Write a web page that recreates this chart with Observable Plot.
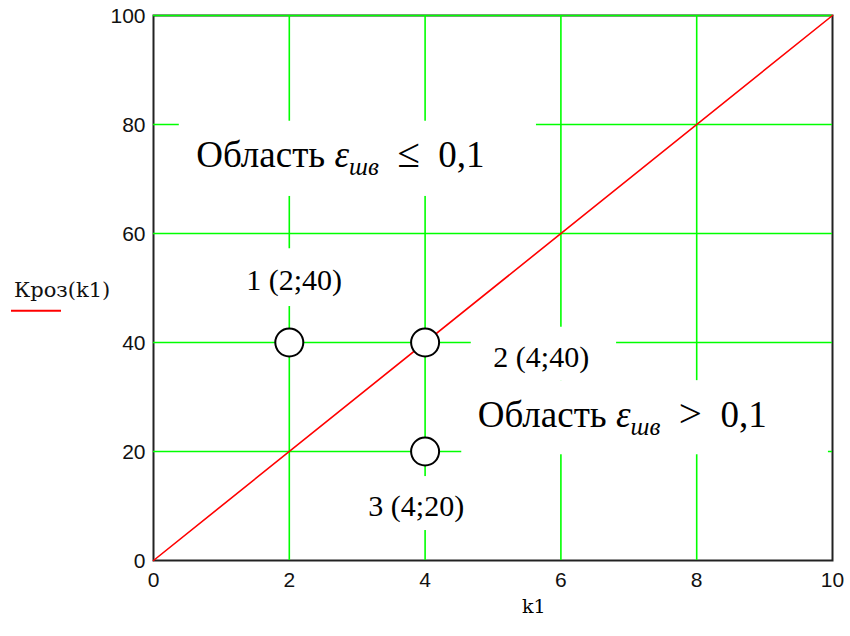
<!DOCTYPE html>
<html>
<head>
<meta charset="utf-8">
<script src="https://cdn.jsdelivr.net/npm/d3@7"></script>
<script src="https://cdn.jsdelivr.net/npm/@observablehq/plot@0.6"></script>
<style>
  body { margin: 0; background: #fff; }
  #chart svg { display: block; background: #fff; }
</style>
</head>
<body>
<div id="chart"></div>
<script>
// Axis ticks
const k1Ticks = [0, 2, 4, 6, 8, 10];
const krozTicks = [0, 20, 40, 60, 80, 100];
const gridK1 = [2, 4, 6, 8];
const gridKroz = [20, 40, 60, 80, 100];

// Кроз(k1) = 10·k1
const lineK1 = [0, 10];
const lineKroz = [0, 100];

// Marked points and where their captions sit (data units)
const pointNames = ["1 (2;40)", "2 (4;40)", "3 (4;20)"];
const pointK1 = [2, 4, 4];
const pointKroz = [40, 40, 20];
const pointLabelK1 = [2.07, 5.71, 3.87];
const pointLabelKroz = [51.4, 37.2, 9.9];

// Region captions
const regionOps = ["≤", ">"];
const regionK1 = [2.76, 6.91];
const regionKroz = [74.3, 26.7];

// White text-box backgrounds behind the captions (data units)
const maskK1From  = [0.38, 1.21, 4.68, 4.54, 2.97];
const maskK1To    = [5.64, 2.97, 6.82, 9.94, 5.04];
const maskKrozFrom = [66.8, 46.6, 33.0, 19.4, 5.5];
const maskKrozTo   = [80.6, 57.2, 42.8, 33.0, 15.4];

const serif = "'Liberation Serif', 'Times New Roman', serif";
const slab = "'DejaVu Serif', serif";
const sans = "'Liberation Sans', Arial, sans-serif";

// Region captions with italic ε and subscript "шв"
function regionLabels(index, scales) {
  const g = d3.create("svg:g")
    .attr("font-family", serif)
    .attr("font-size", 37)
    .attr("text-anchor", "middle")
    .attr("fill", "#000");
  regionOps.forEach((op, i) => {
    const t = g.append("text")
      .attr("x", scales.x(regionK1[i]))
      .attr("y", scales.y(regionKroz[i]))
      .attr("dy", "0.33em");
    t.append("tspan").text("Область ");
    t.append("tspan").attr("font-style", "italic").text("ε");
    t.append("tspan").attr("font-style", "italic").attr("font-size", 25).attr("dy", 8).text("шв");
    t.append("tspan").attr("dy", -8).text("\u2002");
    t.append("tspan").attr("font-size", 41).text(op);
    t.append("tspan").text("\u2002" + "0,1");
  });
  return g.node();
}

// Series legend at the left of the y axis
function seriesLegend(index, scales, values, dimensions) {
  const g = d3.create("svg:g").attr("text-anchor", "start");
  const x0 = dimensions.marginLeft - 142;
  const yText = scales.y(48.3);
  g.append("text")
    .attr("x", x0 + 3)
    .attr("y", yText)
    .attr("font-family", slab)
    .attr("font-size", 21)
    .attr("fill", "#111")
    .text("Кроз(k1)");
  g.append("line")
    .attr("x1", x0).attr("x2", x0 + 50)
    .attr("y1", yText + 14).attr("y2", yText + 14)
    .attr("stroke", "#ff0000")
    .attr("stroke-width", 2);
  return g.node();
}

const maskIdx = d3.range(maskK1From.length);

const chart = Plot.plot({
  width: 850,
  height: 636,
  marginLeft: 153,
  marginRight: 18,
  marginTop: 15,
  marginBottom: 76,
  x: { domain: [0, 10] },
  y: { domain: [0, 100] },
  style: { background: "#fff", overflow: "visible" },
  marks: [
    Plot.frame({ stroke: "#222", strokeWidth: 2 }),
    Plot.ruleX(gridK1, { stroke: "#00ff00", strokeWidth: 1.6 }),
    Plot.ruleY(gridKroz, { stroke: "#00ff00", strokeWidth: 1.6 }),
    Plot.line(lineK1.map((k, i) => [k, lineKroz[i]]), {
      x: d => d[0], y: d => d[1], stroke: "#ff0000", strokeWidth: 1.6
    }),
    Plot.rect(maskIdx, {
      x1: i => maskK1From[i], x2: i => maskK1To[i],
      y1: i => maskKrozFrom[i], y2: i => maskKrozTo[i],
      fill: "#fff"
    }),
    Plot.dot(pointNames, {
      x: (d, i) => pointK1[i], y: (d, i) => pointKroz[i],
      r: 14, fill: "#fff", stroke: "#000", strokeWidth: 2
    }),
    Plot.text(pointNames, {
      x: (d, i) => pointLabelK1[i], y: (d, i) => pointLabelKroz[i],
      text: d => d, fontFamily: serif, fontSize: 30, fill: "#000"
    }),
    regionLabels,
    Plot.axisX(k1Ticks, {
      tickSize: 0, tickPadding: 12, fontSize: 21, fontFamily: sans,
      fill: "#111", label: null
    }),
    Plot.axisY(krozTicks, {
      tickSize: 0, tickPadding: 8, fontSize: 21, fontFamily: sans,
      fill: "#111", label: null, dy: 1
    }),
    Plot.text(["k1"], {
      frameAnchor: "bottom", dy: 52, x: [5.6],
      fontFamily: slab, fontSize: 19, fill: "#000"
    }),
    seriesLegend
  ]
});

document.getElementById("chart").append(chart);
</script>
</body>
</html>
